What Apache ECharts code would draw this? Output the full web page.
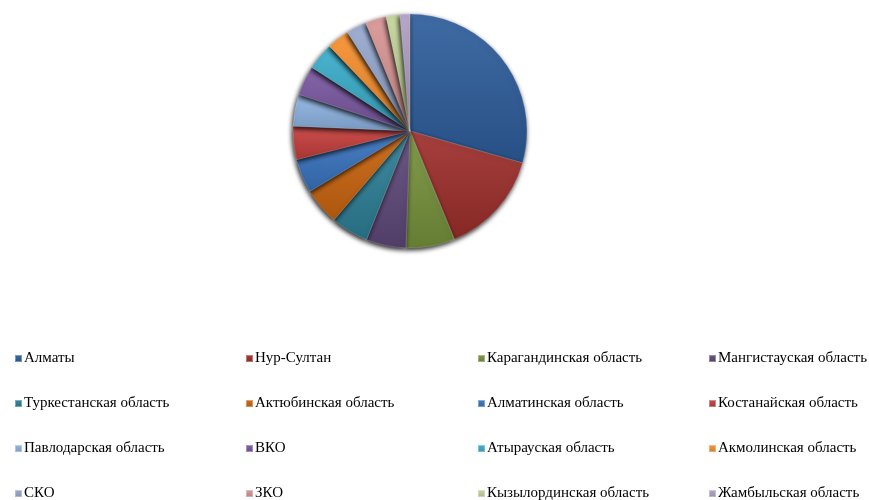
<!DOCTYPE html>
<html><head><meta charset="utf-8">
<script src="https://cdn.jsdelivr.net/npm/echarts@6/dist/echarts.min.js"></script>
<style>html,body{margin:0;padding:0;background:#fff}#c{width:869px;height:500px}</style>
</head><body><div id="c"></div>
<script>
const categories = ["Алматы","Нур-Султан","Карагандинская область","Мангистауская область","Туркестанская область","Актюбинская область","Алматинская область","Костанайская область","Павлодарская область","ВКО","Атырауская область","Акмолинская область","СКО","ЗКО","Кызылординская область","Жамбыльская область"];
const values = [29.4,14.4,6.75,5.5,5.2,5.1,4.7,4.6,4.4,4.1,3.75,3.1,2.8,2.9,1.9,1.4];
const colors = ["#2E5E9C","#9E2F2C","#77933C","#5F497A","#2E8098","#CA650F","#3A74C0","#C63F3C","#8EB4E3","#7A58A2","#3AAECB","#F7902E","#97A9CF","#D99694","#C3D69B","#B3A2C7"];

function shade(hex, f){
  const n=parseInt(hex.slice(1),16);let r=n>>16,g=(n>>8)&255,b=n&255;
  const m=v=>Math.max(0,Math.min(255,Math.round(f>0?v+(255-v)*f:v*(1+f))));
  return 'rgb('+m(r)+','+m(g)+','+m(b)+')';
}
const data = categories.map((name,i)=>({
  name, value: values[i],
  itemStyle:{color:{type:'linear',x:0,y:0,x2:0,y2:1,colorStops:[{offset:0,color:shade(colors[i],0.08)},{offset:1,color:shade(colors[i],-0.15)}]}}
}));
const chart = echarts.init(document.getElementById('c'));
const cols = [0,1,2,3];
const colLeft = [9,240,472,703];
const legends = cols.map(c=>({
  orient:'vertical', left: colLeft[c], top: 346, height: 170, padding:5,
  data: categories.filter((_,i)=>i%4===c),
  icon:'rect', itemWidth:7, itemHeight:7, itemGap:30,
  textStyle:{fontFamily:'Liberation Serif',fontSize:15,color:'#000',padding:[0,0,0,-3]},
  selectedMode:false
}));
chart.setOption({
  animation:false,
  color: colors,
  legend: legends,
  series:[{
    type:'pie', center:[410,131], radius:117, startAngle:90, clockwise:true,
    label:{show:false}, labelLine:{show:false},
    emphasis:{disabled:true},
    itemStyle:{borderColor:'rgba(255,255,255,0.35)',borderWidth:0.5,shadowColor:'rgba(0,0,0,0.9)',shadowBlur:5,shadowOffsetX:-1,shadowOffsetY:2},
    data
  }]
});
</script></body></html>
